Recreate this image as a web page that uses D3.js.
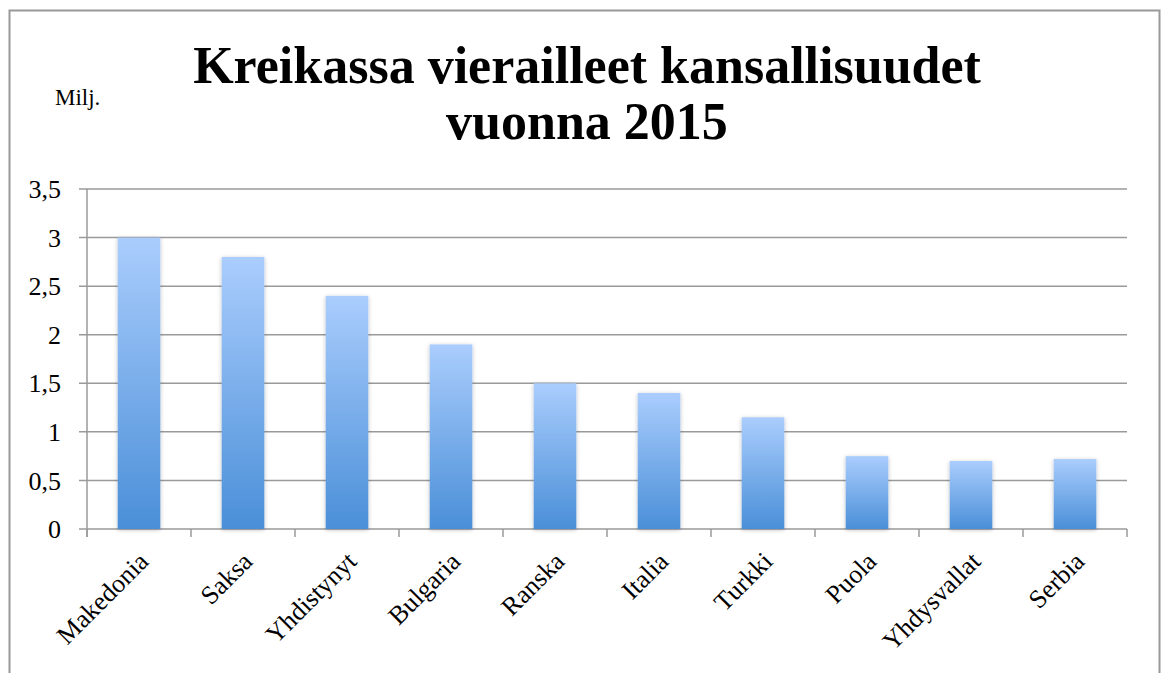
<!DOCTYPE html>
<html><head><meta charset="utf-8">
<script src="https://cdn.jsdelivr.net/npm/d3@7"></script>
<style>body{margin:0;background:#fff}svg{display:block}text{font-family:"Liberation Serif","DejaVu Serif",serif}</style>
</head><body>
<svg id="c" width="1162" height="673"></svg>
<script>
const categories = ["Makedonia","Saksa","Yhdistynyt","Bulgaria","Ranska","Italia","Turkki","Puola","Yhdysvallat","Serbia"];
const values = [3.0, 2.8, 2.4, 1.9, 1.5, 1.4, 1.15, 0.75, 0.7, 0.72];
const yTicks = [0, 0.5, 1, 1.5, 2, 2.5, 3, 3.5];
const titleLines = ["Kreikassa vierailleet kansallisuudet", "vuonna 2015"];
const unitLabel = "Milj.";

const svg = d3.select("#c");
const defs = svg.append("defs");
const grad = defs.append("linearGradient").attr("id","g").attr("x1",0).attr("y1",0).attr("x2",0).attr("y2",1);
grad.append("stop").attr("offset","0%").attr("stop-color","#aacdfd");
grad.append("stop").attr("offset","100%").attr("stop-color","#4a8fd8");
const f = defs.append("filter").attr("id","sh").attr("x","-20%").attr("y","-5%").attr("width","140%").attr("height","110%");
f.append("feDropShadow").attr("dx",0).attr("dy",1).attr("stdDeviation",2).attr("flood-color","#000").attr("flood-opacity",0.25);

// frame
svg.append("rect").attr("x",9.5).attr("y",10.5).attr("width",1150).attr("height",700)
  .attr("fill","none").attr("stroke","#999").attr("stroke-width",2);

const L=87, R=1127, T=189, B=529;
const x = d3.scaleBand().domain(categories).range([L,R]).paddingInner(0.59).paddingOuter(0.295);
const xb = d3.scaleBand().domain(categories).range([L,R]);
const y = d3.scaleLinear().domain([0,3.5]).range([B,T]);

// gridlines
svg.append("g").selectAll("line").data(yTicks).join("line")
  .attr("x1",L-8).attr("x2",R).attr("y1",d=>y(d)).attr("y2",d=>y(d))
  .attr("stroke","#9a9a9a").attr("stroke-width",1.5);

// y axis line
svg.append("line").attr("x1",L).attr("x2",L).attr("y1",T).attr("y2",B+8).attr("stroke","#9a9a9a").attr("stroke-width",1.5);

// x ticks at boundaries
const bounds = categories.map(c=>xb(c)).concat([R]);
svg.append("g").selectAll("line").data(bounds).join("line")
  .attr("x1",d=>d).attr("x2",d=>d).attr("y1",B).attr("y2",B+8)
  .attr("stroke","#9a9a9a").attr("stroke-width",1.5);

// y labels
const fmt = d => String(d).replace(".", ",");
svg.append("g").selectAll("text").data(yTicks).join("text")
  .attr("x",61).attr("y",d=>y(d)).attr("dy","0.35em").attr("text-anchor","end")
  .attr("font-size",26).attr("fill","#000").text(fmt);

// bars
svg.append("g").selectAll("rect").data(values).join("rect")
  .attr("x",(d,i)=>x(categories[i])).attr("width",x.bandwidth())
  .attr("y",d=>y(d)).attr("height",d=>B-y(d))
  .attr("fill","url(#g)").attr("filter","url(#sh)");

// x labels
svg.append("g").selectAll("text").data(categories).join("text")
  .attr("transform",d=>`translate(${xb(d)+xb.bandwidth()/2+11},${B+34}) rotate(-45)`)
  .attr("text-anchor","end").attr("font-size",26).attr("fill","#000").text(d=>d);

// title
svg.append("text").attr("x",587).attr("y",83).attr("text-anchor","middle")
  .attr("font-size",52).attr("font-weight","bold").text(titleLines[0]);
svg.append("text").attr("x",587).attr("y",139).attr("text-anchor","middle")
  .attr("font-size",52).attr("font-weight","bold").text(titleLines[1]);

svg.append("text").attr("x",55).attr("y",105).attr("font-size",23).text(unitLabel);
</script>
</body></html>
